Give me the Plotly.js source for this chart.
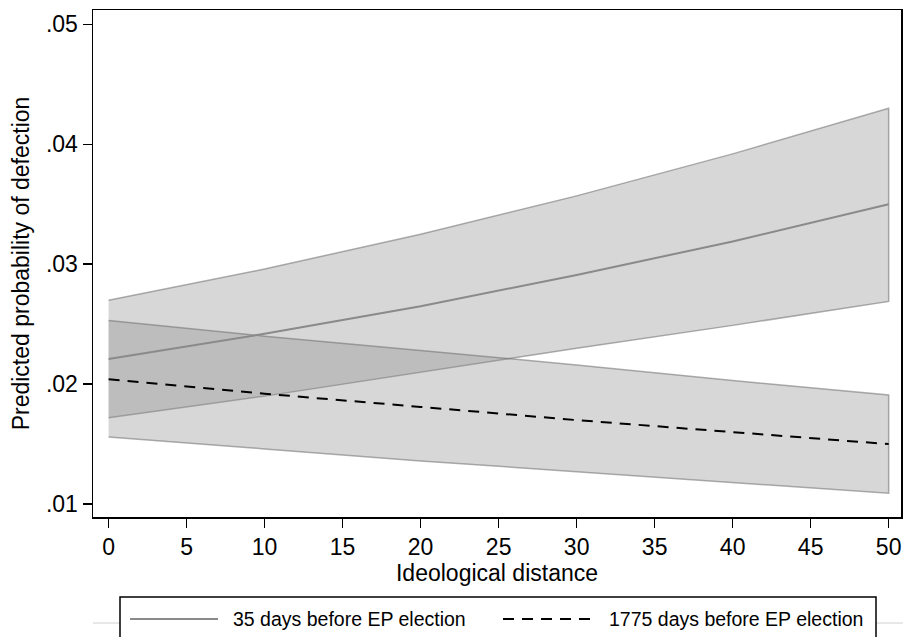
<!DOCTYPE html>
<html>
<head>
<meta charset="utf-8">
<script src="https://cdn.plot.ly/plotly-3.0.1.min.js"></script>
<style>html,body{margin:0;padding:0;background:#fff;}#chart{width:903px;height:637px;}</style>
</head>
<body>
<div id="chart"></div>
<script>
// Data
const distance = [0, 10, 20, 30, 40, 50];
const mean35 = [0.0221, 0.0242, 0.0265, 0.0291, 0.0319, 0.0350];
const upper35 = [0.0270, 0.0296, 0.0325, 0.0357, 0.0392, 0.0430];
const lower35 = [0.0172, 0.0190, 0.0210, 0.0230, 0.0249, 0.0269];
const mean1775 = [0.0204, 0.0192, 0.0181, 0.0170, 0.0160, 0.0150];
const upper1775 = [0.0253, 0.0240, 0.0228, 0.0216, 0.0203, 0.0191];
const lower1775 = [0.0156, 0.0146, 0.0136, 0.0127, 0.0118, 0.0109];
const seriesNames = ["35 days before EP election", "1775 days before EP election"];
const yTickVals = [0.01, 0.02, 0.03, 0.04, 0.05];
const yTickText = [".01", ".02", ".03", ".04", ".05"];
const xTickVals = [0, 5, 10, 15, 20, 25, 30, 35, 40, 45, 50];

const W = 903, H = 637;
const M = {l: 93, r: 2, t: 10, b: 120};
const px = x => (x - M.l) / (W - M.l - M.r);
const py = y => (H - M.b - y) / (H - M.t - M.b);

const font = "Liberation Sans, Arial, Helvetica, sans-serif";
const bandFill = "rgba(141,141,141,0.35)";
const bandLine = "rgba(110,110,110,0.55)";

function band(upper, lower) {
  return {
    x: distance.concat(distance.slice().reverse()),
    y: upper.concat(lower.slice().reverse()),
    type: "scatter", mode: "lines", fill: "toself",
    fillcolor: bandFill,
    line: {color: bandLine, width: 1.5},
    hoverinfo: "skip", showlegend: false
  };
}

const traces = [
  band(upper35, lower35),
  band(upper1775, lower1775),
  {x: distance, y: mean35, type: "scatter", mode: "lines", name: seriesNames[0],
   line: {color: "rgb(138,138,138)", width: 2}, showlegend: false},
  {x: distance, y: mean1775, type: "scatter", mode: "lines", name: seriesNames[1],
   line: {color: "#000", width: 2, dash: "11px,8px"}, showlegend: false}
];

const legY = 619;
const layout = {
  width: W, height: H,
  margin: M,
  paper_bgcolor: "#fff", plot_bgcolor: "#fff",
  showlegend: false,
  font: {family: font, size: 23, color: "#000"},
  xaxis: {
    range: [-1.0, 50.79], tickvals: xTickVals, ticktext: xTickVals.map(String),
    showgrid: false, zeroline: false,
    showline: true, mirror: true, linecolor: "#000", linewidth: 1.5,
    ticks: "outside", ticklen: 9, tickwidth: 1.5, tickcolor: "#000",
    tickfont: {family: font, size: 23, color: "#000"},
    title: {text: "Ideological distance", font: {family: font, size: 23, color: "#000"}, standoff: 0}
  },
  yaxis: {
    range: [0.00892, 0.0512], tickvals: yTickVals, ticktext: yTickText,
    showgrid: false, zeroline: false,
    showline: true, mirror: true, linecolor: "#000", linewidth: 1.5,
    ticks: "outside", ticklen: 9, tickwidth: 1.5, tickcolor: "#000",
    tickfont: {family: font, size: 23, color: "#000"},
    title: {text: "Predicted probability of defection", font: {family: font, size: 23, color: "#000"}, standoff: 10}
  },
  shapes: [
    {type: "line", xref: "paper", yref: "paper", x0: px(93), x1: px(903), y0: py(623), y1: py(623),
     line: {color: "#d0d0d0", width: 1}},
    {type: "rect", xref: "paper", yref: "paper", x0: px(120), x1: px(876), y0: py(597), y1: py(660),
     line: {color: "#000", width: 1.5}, fillcolor: "#fff"},
    {type: "line", xref: "paper", yref: "paper", x0: px(130), x1: px(218), y0: py(legY), y1: py(legY),
     line: {color: "rgb(138,138,138)", width: 2}},
    {type: "line", xref: "paper", yref: "paper", x0: px(503), x1: px(593), y0: py(legY), y1: py(legY),
     line: {color: "#000", width: 2, dash: "11px,8px"}}
  ],
  annotations: [
    {text: seriesNames[0], xref: "paper", yref: "paper", x: px(231), y: py(legY),
     xanchor: "left", yanchor: "middle", showarrow: false, font: {family: font, size: 19.5, color: "#000"}},
    {text: seriesNames[1], xref: "paper", yref: "paper", x: px(607), y: py(legY),
     xanchor: "left", yanchor: "middle", showarrow: false, font: {family: font, size: 19.5, color: "#000"}}
  ]
};

Plotly.newPlot("chart", traces, layout, {staticPlot: true, displayModeBar: false});
</script>
</body>
</html>
